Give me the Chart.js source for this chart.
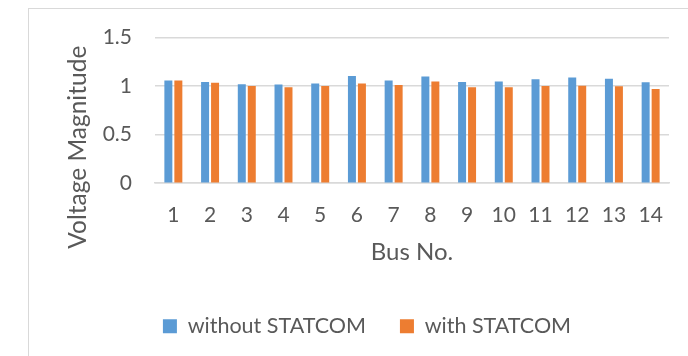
<!DOCTYPE html>
<html>
<head>
<meta charset="utf-8">
<script src="https://cdn.jsdelivr.net/npm/chart.js@4/dist/chart.umd.min.js"></script>
<style>
  html, body { margin: 0; padding: 0; background: #fff; overflow: hidden; }
  body { width: 688px; height: 356px; position: relative; }
  #frame {
    position: absolute; left: 28px; top: 8px;
    width: 680px; height: 348px;
    border-left: 1px solid #D9D9D9; border-top: 1px solid #D9D9D9;
    box-sizing: border-box;
  }
  #wrap { position: relative; width: 679px; height: 347px; }
</style>
</head>
<body>
<div id="frame"><div id="wrap"><canvas id="c"></canvas></div></div>
<script>
// Bus voltage magnitudes (p.u.) for the 14-bus system
const buses = ['1','2','3','4','5','6','7','8','9','10','11','12','13','14'];
const withoutStatcom = [1.055, 1.041, 1.017, 1.014, 1.024, 1.103, 1.055, 1.096, 1.041, 1.045, 1.068, 1.086, 1.075, 1.038];
const withStatcom    = [1.055, 1.034, 1.000, 0.986, 1.000, 1.024, 1.010, 1.045, 0.986, 0.986, 1.000, 1.003, 0.997, 0.969];
const seriesNames = ['without STATCOM', 'with STATCOM'];
const yTitle = 'Voltage Magnitude';
const xTitle = 'Bus No.';

const FONT = 'Lato, "Open Sans", "Noto Sans", sans-serif';
const TEXT = '#595959';
const GRID = '#D9D9D9';

// Rotated value-axis title, placed relative to the chart area
const yTitlePlugin = {
  id: 'yTitle',
  afterDraw(chart) {
    const { ctx, chartArea } = chart;
    ctx.save();
    ctx.translate(chartArea.left - 77, chartArea.bottom - 36);
    ctx.rotate(-Math.PI / 2);
    ctx.font = '24.5px ' + FONT;
    ctx.fillStyle = TEXT;
    ctx.textAlign = 'center';
    ctx.textBaseline = 'middle';
    ctx.fillText(yTitle, 0, 0);
    ctx.restore();
  }
};

new Chart(document.getElementById('c'), {
  type: 'bar',
  data: {
    labels: buses,
    datasets: [
      { label: seriesNames[0], data: withoutStatcom, backgroundColor: '#5B9BD5' },
      { label: seriesNames[1], data: withStatcom, backgroundColor: '#ED7D31' }
    ]
  },
  options: {
    responsive: true,
    maintainAspectRatio: false,
    animation: false,
    devicePixelRatio: 1,
    datasets: { bar: { categoryPercentage: 0.544, barPercentage: 0.8 } },
    layout: { padding: { top: 28.3, right: 39, bottom: 9, left: 36 } },
    plugins: {
      tooltip: { enabled: false },
      legend: {
        position: 'bottom',
        labels: {
          color: TEXT,
          font: { family: FONT, size: 21.5 },
          boxWidth: 14, boxHeight: 14,
          padding: 34
        }
      }
    },
    scales: {
      x: {
        grid: { display: false, drawTicks: false },
        border: { display: true, color: GRID, width: 1.5 },
        ticks: { color: TEXT, font: { family: FONT, size: 21 }, padding: 19, maxRotation: 0 },
        title: { display: true, text: xTitle, color: TEXT, font: { family: FONT, size: 24 }, padding: { top: 0, bottom: 14.9 } },
        afterFit(scale) { scale.height = 98.3; scale.paddingLeft = 0; scale.paddingRight = 0; }
      },
      y: {
        min: 0, max: 1.5,
        ticks: {
          stepSize: 0.5, color: TEXT, font: { family: FONT, size: 21 }, padding: 23,
          callback: (v) => String(v)
        },
        grid: { color: GRID, lineWidth: 1.5, drawTicks: false },
        border: { display: false },
        afterFit(scale) { scale.width = 90; scale.paddingTop = 0; scale.paddingBottom = 0; }
      }
    }
  },
  plugins: [yTitlePlugin]
});
</script>
</body>
</html>
